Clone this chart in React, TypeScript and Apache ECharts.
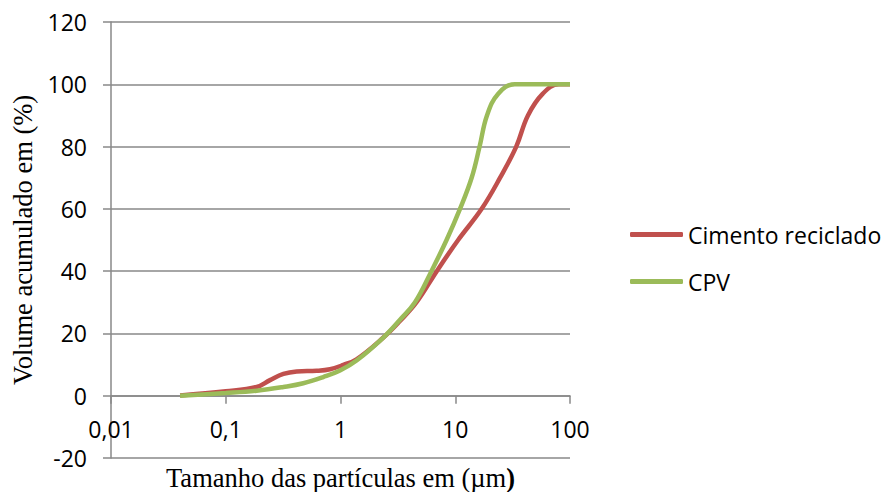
import React, { useEffect, useRef } from "react";
import * as echarts from "echarts";

// Particle size (µm) vs cumulative volume (%)
const recycledCement: [number, number][] = [
  [0.04, 0.1], [0.1, 1.4], [0.186, 2.8], [0.243, 5.0], [0.318, 7.0], [0.415, 7.8],
  [0.62, 8.0], [0.81, 8.5], [1.06, 9.9], [1.38, 11.7], [2.35, 18.6], [3.3, 24],
  [4.6, 30], [6.9, 40], [10.6, 50], [17, 60], [24.6, 70], [34, 80], [43, 90],
  [58, 97], [80, 100], [100, 100],
];
const cpv: [number, number][] = [
  [0.04, 0], [0.1, 0.85], [0.186, 1.6], [0.318, 2.8], [0.474, 4.0], [0.708, 6.0],
  [0.99, 8.1], [1.38, 11.3], [2.35, 18.6], [3.3, 24.4], [4.46, 30], [6.2, 40],
  [8.4, 50], [11, 60], [13.9, 70], [16.3, 80], [18.9, 90], [23.7, 97], [33, 100],
  [100, 100],
];
const seriesNames = ["Cimento reciclado", "CPV"];
const xTickLabels = ["0,01", "0,1", "1", "10", "100"];
const yTicks = { min: -20, max: 120, interval: 20 };

const AXIS_GRAY = "#888888";
const SANS = "'Open Sans', 'Liberation Sans', sans-serif";
const SERIF = "'Liberation Serif', 'Times New Roman', serif";

const GRID = { left: 111, right: 316, top: 22, bottom: 34 };
const HEIGHT = 492;

export default function App() {
  const ref = useRef<HTMLDivElement>(null);
  useEffect(() => {
    if (!ref.current) return;
    const chart = echarts.init(ref.current, null, { renderer: "svg" });
    const gridH = HEIGHT - GRID.top - GRID.bottom;
    // move the x axis up so that it crosses the y axis at 0
    const zeroOffset = -((0 - yTicks.min) / (yTicks.max - yTicks.min)) * gridH;
    chart.setOption({
      animation: false,
      backgroundColor: "#ffffff",
      grid: { ...GRID, containLabel: false, outerBoundsMode: "none" },
      legend: {
        orient: "vertical",
        left: 625,
        top: 218,
        itemWidth: 53,
        itemHeight: 5,
        itemGap: 24,
        icon: "roundRect",
        textStyle: { fontFamily: SANS, fontSize: 23, color: "#000" },
        data: seriesNames,
      },
      xAxis: {
        type: "log",
        logBase: 10,
        min: 0.01,
        max: 100,
        offset: zeroOffset,
        name: "Tamanho das partículas em (µm{b|)}",
        nameLocation: "middle",
        nameGap: 69,
        nameTextStyle: {
          fontFamily: SERIF,
          fontSize: 26.5,
          lineHeight: 26,
          color: "#000",
          rich: {
            b: { fontFamily: SERIF, fontSize: 26.5, lineHeight: 26, fontWeight: "bold", color: "#000" },
          },
        },
        axisLine: { show: true, onZero: false, lineStyle: { color: AXIS_GRAY, width: 1.5 } },
        axisTick: { show: true, inside: false, length: 8, lineStyle: { color: AXIS_GRAY, width: 1.5 } },
        minorTick: { show: false },
        splitLine: { show: false },
        axisLabel: {
          margin: 22,
          fontFamily: SANS,
          fontSize: 23,
          color: "#000",
          formatter: (v: number) => {
            const i = Math.round(Math.log10(v)) + 2;
            return xTickLabels[i] ?? String(v);
          },
        },
      },
      yAxis: {
        type: "value",
        min: yTicks.min,
        max: yTicks.max,
        interval: yTicks.interval,
        name: "Volume acumulado em (%)",
        nameLocation: "middle",
        nameRotate: 90,
        nameGap: 46,
        nameTextStyle: { fontFamily: SERIF, fontSize: 26.5, color: "#000" },
        axisLine: { show: true, onZero: false, lineStyle: { color: AXIS_GRAY, width: 1.5 } },
        axisTick: { show: true, inside: false, length: 8, lineStyle: { color: AXIS_GRAY, width: 1.5 } },
        splitLine: { show: true, lineStyle: { color: AXIS_GRAY, width: 1.5 } },
        axisLabel: { margin: 24, fontFamily: SANS, fontSize: 23, color: "#000" },
      },
      series: [
        {
          name: seriesNames[0],
          type: "line",
          data: recycledCement,
          smooth: 0.4,
          symbol: "none",
          lineStyle: { color: "#C0504D", width: 4.5 },
          itemStyle: { color: "#C0504D" },
        },
        {
          name: seriesNames[1],
          type: "line",
          data: cpv,
          smooth: 0.4,
          symbol: "none",
          lineStyle: { color: "#9BBB59", width: 4.5 },
          itemStyle: { color: "#9BBB59" },
        },
      ],
    });
    return () => chart.dispose();
  }, []);
  return (
    <div
      ref={ref}
      style={{ position: "absolute", left: 0, top: 0, width: 886, height: HEIGHT }}
    />
  );
}
